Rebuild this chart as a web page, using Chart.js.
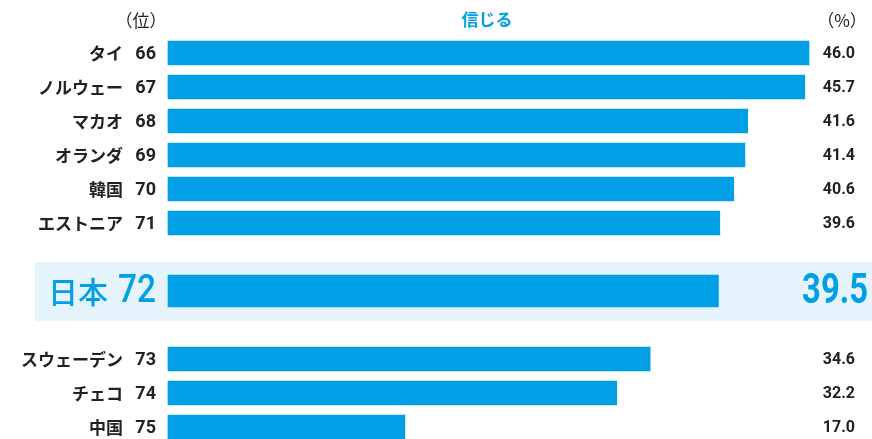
<!DOCTYPE html>
<html><head><meta charset="utf-8">
<script src="https://cdn.jsdelivr.net/npm/chart.js@4/dist/chart.umd.min.js"></script>
<style>html,body{margin:0;padding:0;background:#fff}canvas{display:block}</style>
</head><body>
<canvas id="c" width="872" height="439" style="width:872px;height:439px"></canvas>
<script>
const categories = ['タイ','ノルウェー','マカオ','オランダ','韓国','エストニア','日本','スウェーデン','チェコ','中国'];
const ranks = [66,67,68,69,70,71,72,73,74,75];
const values = [46.0,45.7,41.6,41.4,40.6,39.6,39.5,34.6,32.2,17.0];
const highlight = '日本';
const seriesTitle = '信じる';
const rankUnit = '（位）';
const valueUnit = '（%）';

const BLUE = '#009fe6';
const DARK = '#222222';
const HL_BG = '#e5f3fd';

// rows with a spacer before and after the highlighted entry
const rows = [];
categories.forEach((name, i) => {
  const hl = name === highlight;
  if (hl) rows.push(null);
  rows.push({name, rank: ranks[i], value: values[i], hl});
  if (hl) rows.push(null);
});
const labels = rows.map((r, i) => r ? r.name : ' '.repeat(i + 1));

const textPlugin = {
  id: 'texts',
  beforeDatasetsDraw(chart) {
    const ctx = chart.ctx, y = chart.scales.y;
    rows.forEach((r, i) => {
      if (!r || !r.hl) return;
      const py = y.getPixelForValue(i);
      ctx.save();
      ctx.fillStyle = HL_BG;
      ctx.fillRect(35, py - 29, chart.width - 35, 59);
      ctx.restore();
    });
  },
  afterDraw(chart) {
    const ctx = chart.ctx, y = chart.scales.y;
    ctx.save();
    // headers
    ctx.textBaseline = 'middle';
    ctx.textAlign = 'center';
    ctx.fillStyle = DARK;
    ctx.font = '17px "Noto Sans CJK JP"';
    ctx.fillText(rankUnit, 141, 21);
    ctx.fillText(valueUnit, 842, 21);
    ctx.fillStyle = BLUE;
    ctx.font = 'bold 17px "Noto Sans CJK JP"';
    ctx.fillText(seriesTitle, 487, 20);

    rows.forEach((r, i) => {
      if (!r) return;
      const py = y.getPixelForValue(i);
      if (r.hl) {
        ctx.fillStyle = BLUE;
        ctx.textAlign = 'right';
        ctx.font = '500 30px "Noto Sans CJK JP"';
        ctx.fillText(r.name, 108, py + 1);
        ctx.save();
        ctx.translate(156, py + 1);
        ctx.scale(0.88, 1);
        ctx.font = '500 38px Roboto';
        ctx.fillText(String(r.rank), 0, 0);
        ctx.restore();
        ctx.save();
        ctx.translate(868, py + 1);
        ctx.scale(0.78, 1);
        ctx.font = 'bold 42px Roboto';
        ctx.fillText(r.value.toFixed(1), 0, 0);
        ctx.restore();
      } else {
        ctx.fillStyle = DARK;
        ctx.textAlign = 'right';
        ctx.font = 'bold 17px "Noto Sans CJK JP"';
        ctx.fillText(r.name, 123, py + 1);
        ctx.font = 'bold 18px Roboto';
        ctx.fillText(String(r.rank), 156, py + 1);
        ctx.font = 'bold 16px Roboto';
        ctx.fillText(r.value.toFixed(1), 855, py + 1);
      }
    });
    ctx.restore();
  }
};

new Chart(document.getElementById('c'), {
  type: 'bar',
  data: {
    labels,
    datasets: [
      {
        data: rows.map(r => r && !r.hl ? r.value : null),
        backgroundColor: BLUE, borderWidth: 0, barThickness: 24,
        grouped: false, clip: false
      },
      {
        data: rows.map(r => r && r.hl ? r.value : null),
        backgroundColor: BLUE, borderWidth: 0, barThickness: 32,
        grouped: false, clip: false
      }
    ]
  },
  options: {
    indexAxis: 'y',
    responsive: false,
    animation: false,
    layout: { padding: { left: 168, right: 63, top: 53, bottom: 12 } },
    plugins: { legend: { display: false }, tooltip: { enabled: false } },
    scales: {
      x: { display: false, min: 0, max: 46 },
      y: { display: false, offset: false }
    }
  },
  plugins: [textPlugin]
});
</script>
</body></html>
